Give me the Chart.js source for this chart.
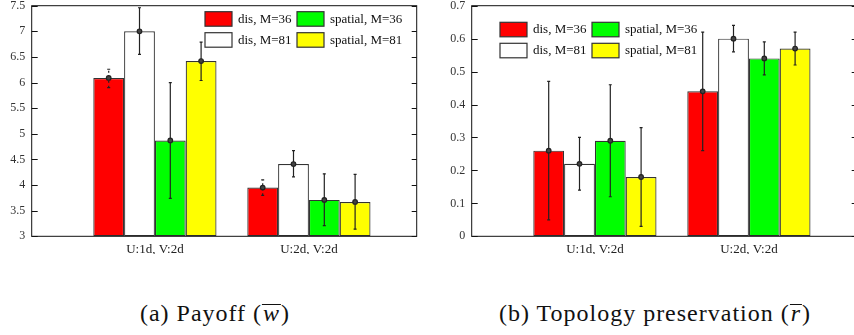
<!DOCTYPE html>
<html>
<head>
<meta charset="utf-8">
<script src="https://cdn.jsdelivr.net/npm/chart.js@4/dist/chart.umd.min.js"></script>
<style>
    body { margin: 0; width: 854px; height: 335px; overflow: hidden; background: #fff; position: relative; }
    canvas { position: absolute; top: -8px; }
    #payoff_chart { left: 0; }
    #topology_chart { left: 440px; }
    .caption { position: absolute; top: 300px; font-family: "Liberation Serif", "Times New Roman", "DejaVu Serif", serif;
               font-size: 24px; letter-spacing: 1px; white-space: nowrap; transform: translateX(-50%); color: #111; }
    .caption i { display: inline-block; line-height: 17px; border-top: 1.5px solid #111; padding: 0 1px; }
</style>
</head>
<body>
<canvas id="payoff_chart" width="430" height="262"></canvas>
<canvas id="topology_chart" width="430" height="262"></canvas>
<div class="caption" style="left:215px">(a) Payoff (<i>w</i>)</div>
<div class="caption" style="left:655px">(b) Topology preservation (<i>r</i>)</div>

<script>
const categories = ['U:1d, V:2d', 'U:2d, V:2d'];
const seriesNames = ['dis, M=36', 'dis, M=81', 'spatial, M=36', 'spatial, M=81'];
const seriesColors = ['#ff0000', '#ffffff', '#00ff00', '#ffff00'];

// (a) payoff
const payoffDis36 = [6.09, 3.95];
const payoffDis81 = [7.00, 4.41];
const payoffSpa36 = [4.87, 3.71];
const payoffSpa81 = [6.42, 3.67];
const payoffLow  = [[5.90, 3.80], [6.55, 4.16], [3.74, 3.21], [6.04, 3.14]];
const payoffHigh = [[6.26, 4.10], [7.46, 4.67], [6.00, 4.22], [6.79, 4.21]];
const payoffAxis = [3, 7.5, 0.5];

// (b) topology preservation
const topoDis36 = [0.26, 0.44];
const topoDis81 = [0.22, 0.60];
const topoSpa36 = [0.29, 0.54];
const topoSpa81 = [0.18, 0.57];
const topoLow  = [[0.05, 0.26], [0.14, 0.56], [0.12, 0.49], [0.03, 0.52]];
const topoHigh = [[0.47, 0.62], [0.30, 0.64], [0.46, 0.59], [0.33, 0.62]];
const topoAxis = [0, 0.7, 0.1];

const serif = '"Liberation Serif", "Times New Roman", "DejaVu Serif", serif';

// box round the plot, inward ticks on both sides
const boxPlugin = {
    id: 'box',
    afterDraw(chart) {
        const ctx = chart.ctx, a = chart.chartArea, y = chart.scales.y;
        ctx.save();
        ctx.strokeStyle = '#111';
        ctx.lineWidth = 1;
        ctx.strokeRect(a.left, a.top, a.right - a.left, a.bottom - a.top);
        y.ticks.forEach(t => {
            const py = Math.round(y.getPixelForValue(t.value)) + 0.5;
            ctx.beginPath();
            ctx.moveTo(a.left, py); ctx.lineTo(a.left + 6, py);
            ctx.moveTo(a.right, py); ctx.lineTo(a.right - 5, py);
            ctx.stroke();
        });
        ctx.restore();
    }
};

const errorBarPlugin = {
    id: 'errbars',
    afterDatasetsDraw(chart, args, opts) {
        const ctx = chart.ctx, y = chart.scales.y;
        ctx.save();
        chart.data.datasets.forEach((ds, i) => {
            const meta = chart.getDatasetMeta(i);
            meta.data.forEach((bar, j) => {
                const lo = y.getPixelForValue(opts.low[i][j]);
                const hi = y.getPixelForValue(opts.high[i][j]);
                const mid = y.getPixelForValue(ds.data[j].y);
                ctx.strokeStyle = '#222';
                ctx.lineWidth = 1.2;
                ctx.setLineDash(opts.dashed[i] ? [2, 3] : []);
                ctx.beginPath();
                ctx.moveTo(bar.x, lo); ctx.lineTo(bar.x, hi);
                ctx.stroke();
                ctx.setLineDash([]);
                ctx.beginPath();
                ctx.moveTo(bar.x - 1.5, lo); ctx.lineTo(bar.x + 1.5, lo);
                ctx.moveTo(bar.x - 1.5, hi); ctx.lineTo(bar.x + 1.5, hi);
                ctx.stroke();
                ctx.beginPath();
                ctx.arc(bar.x, mid, 2.3, 0, Math.PI * 2);
                ctx.fillStyle = '#444';
                ctx.fill();
                ctx.stroke();
            });
        });
        ctx.restore();
    }
};

// two-column key inside the plot
const keyPlugin = {
    id: 'key',
    afterDraw(chart, args, opts) {
        const ctx = chart.ctx;
        ctx.save();
        ctx.font = '13px ' + serif;
        ctx.textBaseline = 'middle';
        chart.data.datasets.forEach((ds, i) => {
            const col = Math.floor(i / 2), row = i % 2;
            const x = opts.x + col * 92, y = opts.y + row * 21;
            ctx.fillStyle = ds.backgroundColor;
            ctx.fillRect(x, y, 27, 14.5);
            ctx.strokeStyle = '#333';
            ctx.lineWidth = 1.2;
            ctx.strokeRect(x, y, 27, 14.5);
            ctx.fillStyle = '#111';
            ctx.fillText(ds.label, x + 33, y + 7.5);
        });
        ctx.restore();
    }
};

function makeChart(id, series, low, high, axis, dashed, keyPos)
{
    const sample = document.getElementById(id);
    return new Chart(sample, {
        type: 'bar',
        data: {
            datasets: series.map((vals, i) => ({
                label: seriesNames[i],
                data: vals.map((v, j) => ({ x: j, y: v })),
                backgroundColor: seriesColors[i],
                borderColor: '#333',
                borderWidth: 1.2,
                borderSkipped: false,
                base: axis[0],
                categoryPercentage: 0.8,
                barPercentage: 1.0
            }))
        },
        options: {
            responsive: false,
            animation: false,
            layout: { padding: { top: 0, right: 13.3, bottom: 0, left: 0 } },
            scales: {
                x: {
                    type: 'linear',
                    offset: false,
                    min: -0.8,
                    max: 1.7,
                    grid: { display: false, drawTicks: false },
                    border: { display: false },
                    afterBuildTicks: (scale) => { scale.ticks = categories.map((c, i) => ({ value: i })); },
                    afterFit: (scale) => { scale.height = 17.7; },
                    ticks: {
                        autoSkip: false,
                        maxRotation: 0,
                        padding: 5,
                        color: '#222',
                        font: { family: serif, size: 13 },
                        callback: (v) => categories[v]
                    }
                },
                y: {
                    min: axis[0],
                    max: axis[1],
                    grid: { display: false, drawTicks: false },
                    border: { display: false },
                    afterFit: (scale) => { scale.width = 31.7; },
                    ticks: {
                        stepSize: axis[2],
                        padding: 6.5,
                        color: '#333',
                        font: { family: serif, size: 12 },
                        callback: (v) => String(+v.toFixed(2))
                    }
                }
            },
            plugins: {
                legend: { display: false },
                tooltip: { enabled: false },
                errbars: { low: low, high: high, dashed: dashed },
                key: keyPos
            }
        },
        plugins: [errorBarPlugin, boxPlugin, keyPlugin]
    });
}

(function payoff_chart()
{
    makeChart('payoff_chart',
        [payoffDis36, payoffDis81, payoffSpa36, payoffSpa81],
        payoffLow, payoffHigh, payoffAxis,
        [true, false, false, false],
        { x: 205, y: 19.7 });
})();

(function topology_chart()
{
    makeChart('topology_chart',
        [topoDis36, topoDis81, topoSpa36, topoSpa81],
        topoLow, topoHigh, topoAxis,
        [false, false, false, false],
        { x: 60, y: 30.3 });
})();
</script>
</body>
</html>
